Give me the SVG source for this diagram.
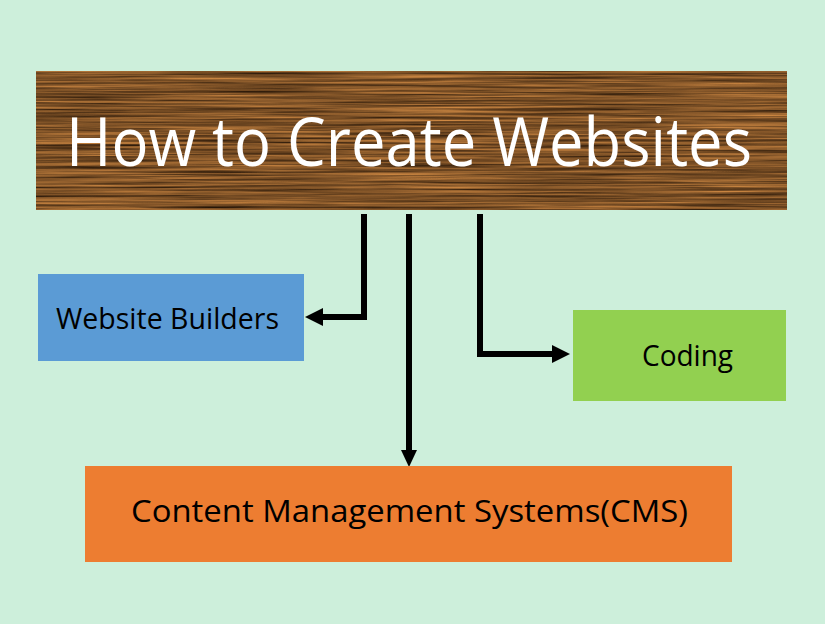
<svg xmlns="http://www.w3.org/2000/svg" width="825" height="624" viewBox="0 0 825 624">
<style>
.lbl{font-family:"Open Sans","Noto Sans","Liberation Sans",sans-serif;fill:#000}
.title{font-family:"Open Sans","Noto Sans","Liberation Sans",sans-serif;fill:#fff}
.conn{fill:none;stroke:#000;stroke-width:6}
.head{fill:#000}
</style>
<defs>
<filter id="wood" x="0" y="0" width="100%" height="100%" color-interpolation-filters="sRGB">
<feTurbulence type="fractalNoise" baseFrequency="0.006 0.45" numOctaves="4" seed="7" result="n"/>
<feColorMatrix in="n" type="matrix" values="0.85 0 0 0 0.07  0.58 0 0 0 0.03  0.3 0 0 0 0  0 0 0 0 1"/>
</filter>
</defs>
<rect width="825" height="624" fill="#CDEFDB"/>
<g id="title">
<rect x="36" y="71" width="751" height="139" fill="#80552e"/>
<rect x="36" y="71" width="751" height="139" filter="url(#wood)"/>
<text class="title" x="66" y="166" font-size="68" textLength="686" lengthAdjust="spacingAndGlyphs">How to Create Websites</text>
</g>
<g id="connectors">
<path class="conn" d="M364,214 V317 H320"/>
<polygon class="head" points="305,317 323,308 323,326"/>
<path class="conn" d="M409,214 V452"/>
<polygon class="head" points="409,467 401,450 417,450"/>
<path class="conn" d="M480,214 V354 H555"/>
<polygon class="head" points="570,354 552,345 552,363"/>
</g>
<g id="website-builders">
<rect x="38" y="274" width="266" height="87" fill="#5B9BD5"/>
<text class="lbl" x="56" y="329" font-size="29" textLength="223" lengthAdjust="spacingAndGlyphs">Website Builders</text>
</g>
<g id="coding">
<rect x="573" y="310" width="213" height="91" fill="#92D050"/>
<text class="lbl" x="642" y="366" font-size="30" textLength="91" lengthAdjust="spacingAndGlyphs">Coding</text>
</g>
<g id="cms">
<rect x="85" y="466" width="647" height="96" fill="#ED7D31"/>
<text class="lbl" x="131" y="522" font-size="31" textLength="557" lengthAdjust="spacingAndGlyphs">Content Management Systems(CMS)</text>
</g>
</svg>
